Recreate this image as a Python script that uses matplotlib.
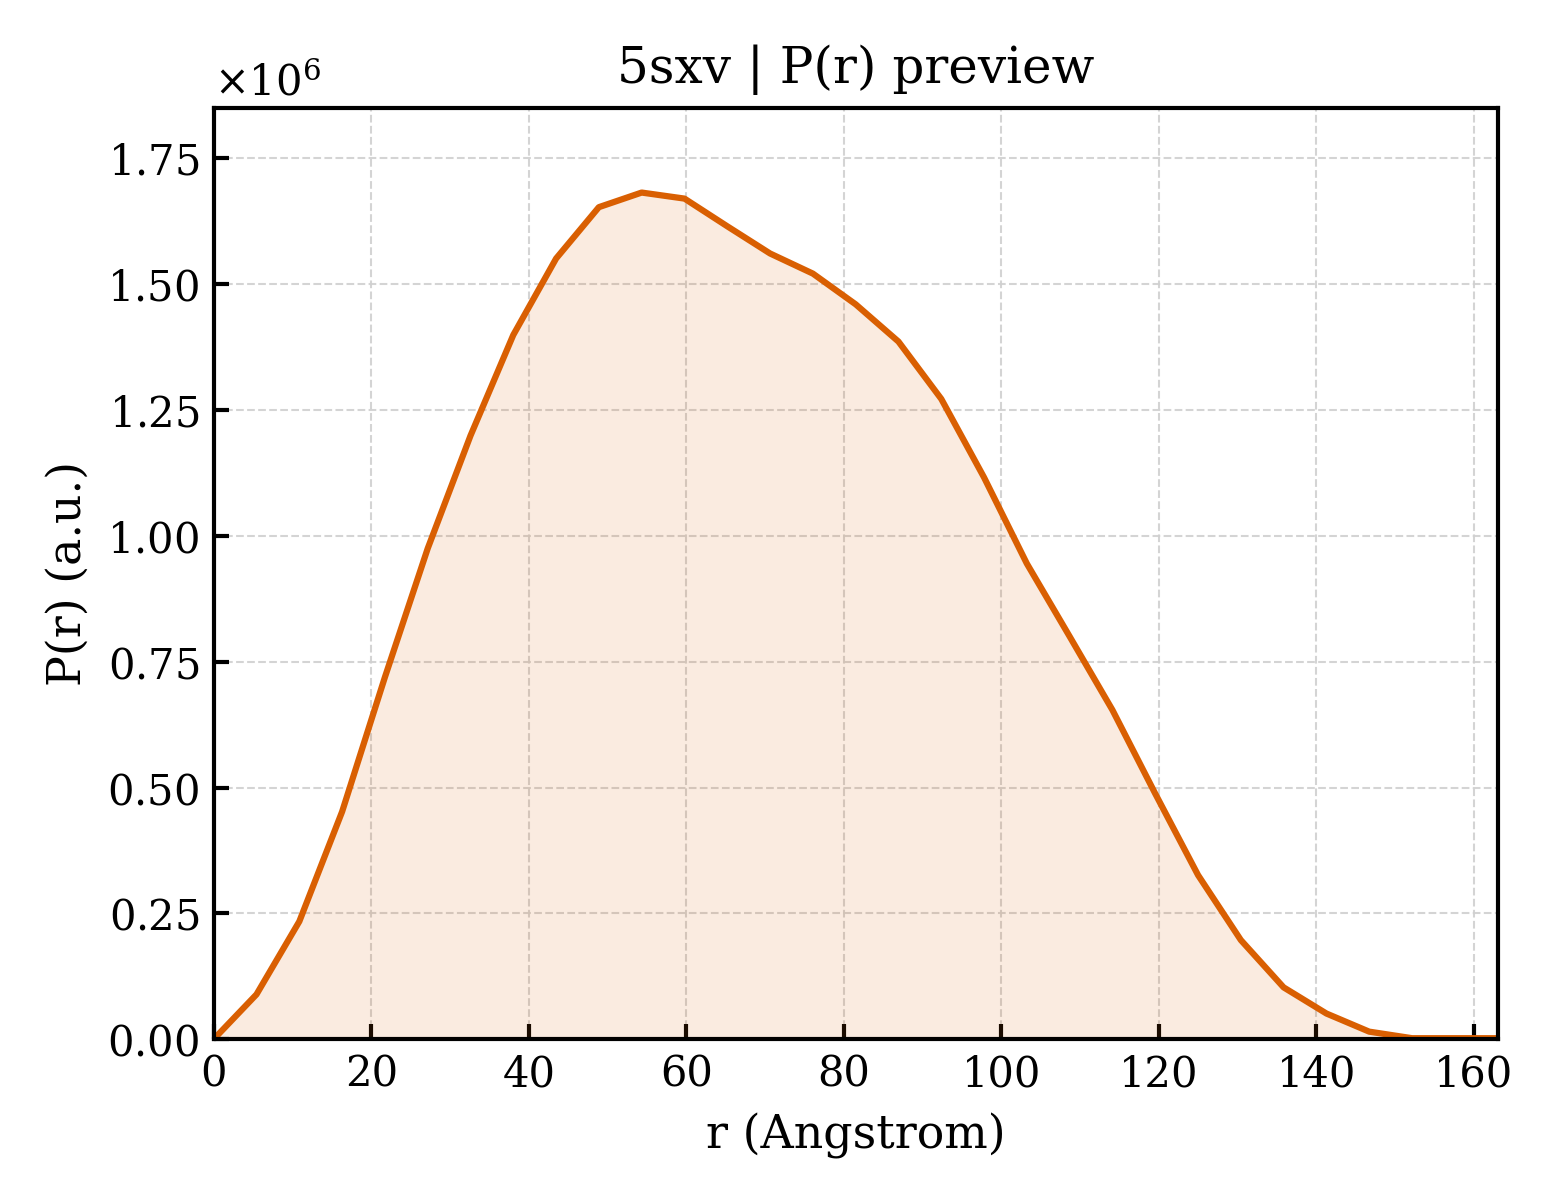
import numpy as np
import matplotlib
matplotlib.use("Agg")
import matplotlib.pyplot as plt
from matplotlib.ticker import ScalarFormatter

# Data (r in Angstrom, P(r) in arbitrary units)
r_values = [0.0, 5.43, 10.87, 16.3, 21.73, 27.17, 32.6, 38.03, 43.47, 48.9,
            54.33, 59.77, 65.2, 70.63, 76.07, 81.5, 86.93, 92.37, 97.8, 103.23,
            108.67, 114.1, 119.53, 124.97, 130.4, 135.83, 141.27, 146.7, 152.13,
            157.57, 163.0]
p_values = [0.000, 0.089, 0.234, 0.452, 0.719, 0.975, 1.199, 1.399, 1.551, 1.653,
            1.682, 1.670, 1.615, 1.561, 1.521, 1.460, 1.386, 1.272, 1.116, 0.945,
            0.800, 0.654, 0.488, 0.326, 0.197, 0.103, 0.051, 0.015, 0.002,
            0.002, 0.002]
p_values = [v * 1e6 for v in p_values]

title = "5sxv | P(r) preview"
xlabel = "r (Angstrom)"
ylabel = "P(r) (a.u.)"

plt.rcParams['font.family'] = ['DejaVu Serif']
plt.rcParams['mathtext.fontset'] = 'dejavuserif'

fig = plt.figure(figsize=(5.2, 4.0), dpi=300)
ax = fig.add_axes([0.137, 0.134, 0.823, 0.776])

color = "#D95F02"
ax.fill_between(r_values, p_values, 0, color=color, alpha=0.12, linewidth=0)
ax.plot(r_values, p_values, color=color, linewidth=1.5)

ax.set_xlim(0, 163)
ax.set_ylim(0, 1.85e6)
ax.set_yticks(np.arange(0, 1.76e6, 0.25e6))
ax.set_xticks(np.arange(0, 161, 20))

fmt = ScalarFormatter(useMathText=True)
fmt.set_powerlimits((0, 0))
ax.yaxis.set_major_formatter(fmt)

for sp in ax.spines.values():
    sp.set_linewidth(1.0)
ax.tick_params(direction='in', labelsize=10, top=False, right=False, width=1.0)
ax.grid(True, linestyle='--', linewidth=0.5, color='#d0d0d0', alpha=0.9)
ax.set_axisbelow(True)

ax.set_title(title, fontsize=12)
ax.set_xlabel(xlabel, fontsize=11)
ax.set_ylabel(ylabel, fontsize=11)
ax.yaxis.get_offset_text().set_fontsize(10)

fig.savefig("out.png", dpi=300)
